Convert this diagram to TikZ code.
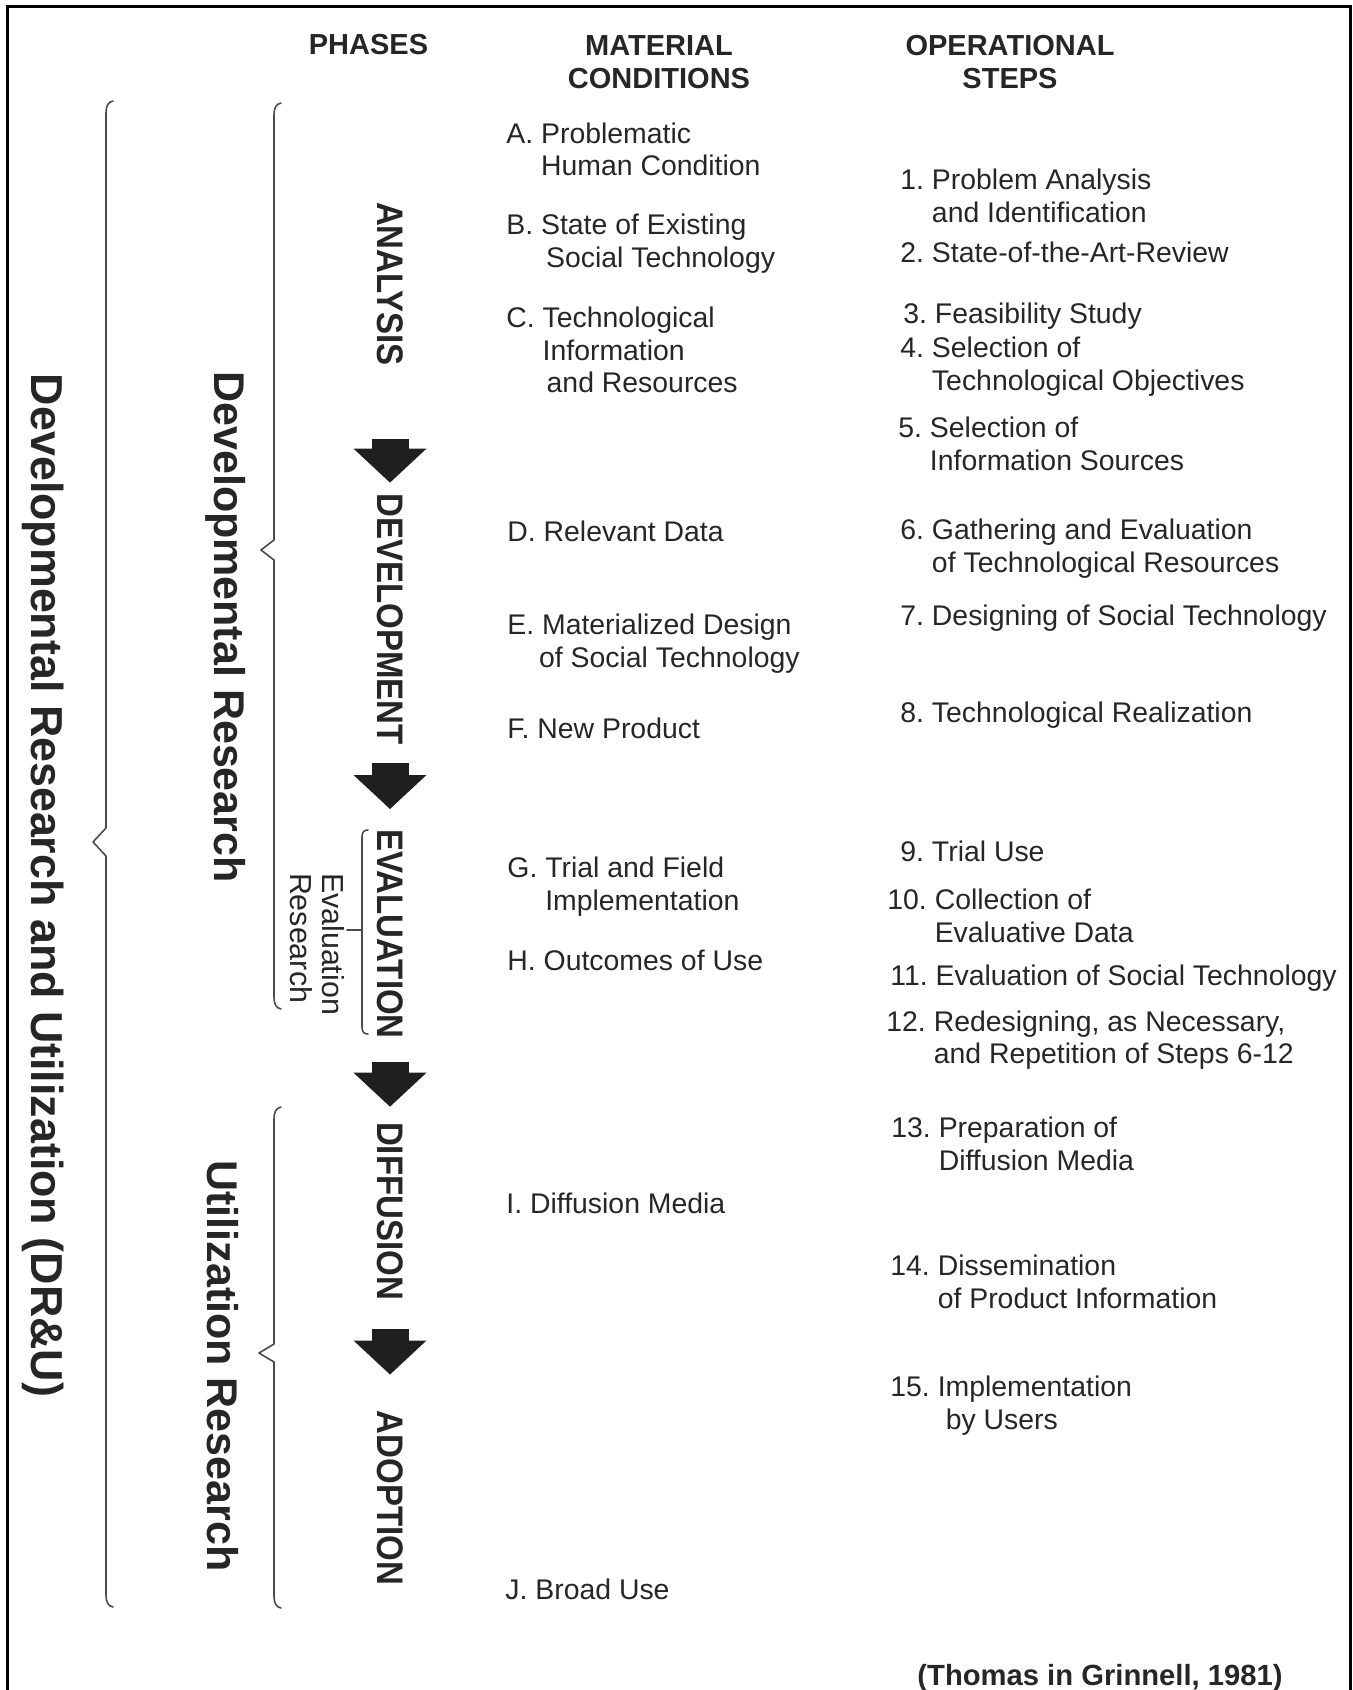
\documentclass[tikz,border=0pt]{standalone}
\usepackage{fontspec}
\setmainfont{Liberation Sans}
\usepackage{graphicx}
\usepackage{tikz}
\usetikzlibrary{arrows.meta}
\definecolor{ink}{HTML}{262626}
\definecolor{bracegray}{HTML}{4A4A4A}
\newcommand{\bodyfont}{\fontsize{14.2pt}{16.15pt}\selectfont}
\newcommand{\headfont}{\bfseries\fontsize{14.5pt}{16.7pt}\selectfont}
\newcommand{\phasefont}{\bfseries\fontsize{16.5pt}{18pt}\selectfont}
\newcommand{\researchfont}{\bfseries\fontsize{21.5pt}{24pt}\selectfont}
\newcommand{\outerfont}{\bfseries\fontsize{22.4pt}{25pt}\selectfont}
\newcommand{\evalfont}{\fontsize{15.2pt}{16pt}\selectfont}
\newcommand{\citefont}{\bfseries\fontsize{14.6pt}{16pt}\selectfont}

\begin{document}
\begin{tikzpicture}[x=0.5pt,y=-0.5pt]
\tikzstyle{every node}=[text=ink,inner sep=0pt]
\tikzstyle{head}=[font=\headfont,align=center]
\tikzstyle{cond}=[anchor=north west,align=left,font=\bodyfont]
\tikzstyle{oper}=[anchor=north west,align=left,font=\bodyfont]
\tikzstyle{phase}=[rotate=-90,font=\phasefont]
\tikzstyle{research}=[rotate=-90,anchor=base,font=\researchfont]
\tikzstyle{bracket}=[draw=bracegray,line width=0.8pt,line join=round,line cap=round]
\tikzstyle{flow}=[-{Triangle[width=36.5pt,length=17pt,line width=0pt]},line width=18.5pt,draw=black!88]
\useasboundingbox (0,0) rectangle (1353,1690);
\draw[line width=1.5pt] (7,7) rectangle (1350,1720);

\node[head](phasehead) at (368.5,45){PHASES};
\node[head](mathead) at (659,62){MATERIAL\\CONDITIONS};
\node[head](ophead) at (1010,62){OPERATIONAL\\STEPS};

\node[research,font=\outerfont](drandu) at (31.5,885.5){Developmental Research and Utilization (DR\&U)};
\node[research](devres) at (214.6,627){Developmental Research};
\node[research](utilres) at (207.2,1366){Utilization Research};
\node[rotate=-90,align=left,font=\evalfont](evalres) at (317.5,944){Evaluation\\Research};

\draw[bracket] (113,101) .. controls (108,102) and (106,106) .. (106,113) -- (106,828) -- (93,842) -- (106,856) -- (106,1595) .. controls (106,1602) and (108,1606) .. (113,1607);
\draw[bracket] (281,103) .. controls (276,104) and (274,108) .. (274,115) -- (274,540) -- (261,550) -- (274,560) -- (274,997) .. controls (274,1004) and (276,1008) .. (281,1009);
\draw[bracket] (281,1107) .. controls (276,1108) and (274,1112) .. (274,1119) -- (274,1344) -- (259,1353) -- (274,1362) -- (274,1596) .. controls (274,1603) and (276,1607) .. (281,1608);
\draw[bracket] (368,830) .. controls (364,830) and (362,832) .. (362,837) -- (362,1027) .. controls (362,1032) and (364,1034) .. (368,1034) (362,930) -- (347,930);

\node[phase](analysis) at (390,284){\scalebox{1}[1.12]{ANALYSIS}};
\node[phase](development) at (390,619){\scalebox{1}[1.12]{DEVELOPMENT}};
\node[phase](evaluation) at (390,934){\scalebox{1}[1.12]{EVALUATION}};
\node[phase](diffusion) at (390,1211){\scalebox{1}[1.12]{DIFFUSION}};
\node[phase](adoption) at (390,1498){\scalebox{1}[1.12]{ADOPTION}};

\node[cond](cA) at (506,122.3){A.~Problematic\\\phantom{A.~}Human Condition};
\node[cond](cB) at (506,213.8){B.~State of Existing\\\phantom{B.~}\hspace{2.5pt}Social Technology};
\node[cond](cC) at (506,306.8){C.~Technological\\\phantom{C.~}Information\\\phantom{C.~}\hspace{2pt}and Resources};
\node[cond](cD) at (507,520.8){D.~Relevant Data};
\node[cond](cE) at (507,613.8){E.~Materialized Design\\\phantom{E.~}\hspace{-1.5pt}of Social Technology};
\node[cond](cF) at (507,717.8){F.~New Product};
\node[cond](cG) at (507,856.8){G.~Trial and Field\\\phantom{G.~}Implementation};
\node[cond](cH) at (507,949.8){H.~Outcomes of Use};
\node[cond](cI) at (506,1192.8){I.~Diffusion Media};
\node[cond](cJ) at (505,1578.8){J.~Broad Use};

\node[oper](o1) at (900,168.8){1.~Problem Analysis\\\phantom{1.~}and Identification};
\node[oper](o2) at (900,241.8){2.~State-of-the-Art-Review};
\node[oper](o3) at (903,302.3){3.~Feasibility Study};
\node[oper](o4) at (900,336.8){4.~Selection of\\\phantom{4.~}Technological Objectives};
\node[oper](o5) at (898,416.8){5.~Selection of\\\phantom{5.~}Information Sources};
\node[oper](o6) at (900,518.8){6.~Gathering and Evaluation\\\phantom{6.~}of Technological Resources};
\node[oper](o7) at (900,604.8){7.~Designing of Social Technology};
\node[oper](o8) at (900,701.8){8.~Technological Realization};
\node[oper](o9) at (900,840.8){9.~Trial Use};
\node[oper](o10) at (887,888.8){10.~Collection of\\\phantom{10.~}Evaluative Data};
\node[oper](o11) at (890,964.8){11.~Evaluation of Social Technology};
\node[oper](o12) at (886,1010.4){12.~Redesigning, as Necessary,\\\phantom{12.~}and Repetition of Steps 6-12};
\node[oper](o13) at (891,1116.8){13.~Preparation of\\\phantom{13.~}Diffusion Media};
\node[oper](o14) at (890,1254.8){14.~Dissemination\\\phantom{14.~}of Product Information};
\node[oper](o15) at (890,1375.8){15.~Implementation\\\phantom{15.~}\hspace{4pt}by Users};

\node[font=\citefont,anchor=base](source) at (1100,1685){(Thomas in Grinnell, 1981)};

\path (analysis)edge[flow,shorten <=36.3pt,shorten >=5.2pt](development)
      (development)edge[flow,shorten <=9.2pt,shorten >=9.9pt](evaluation)
      (evaluation)edge[flow,shorten <=11.4pt,shorten >=7.5pt](diffusion)
      (diffusion)edge[flow,shorten <=14.5pt,shorten >=18pt](adoption);
\end{tikzpicture}
\end{document}
